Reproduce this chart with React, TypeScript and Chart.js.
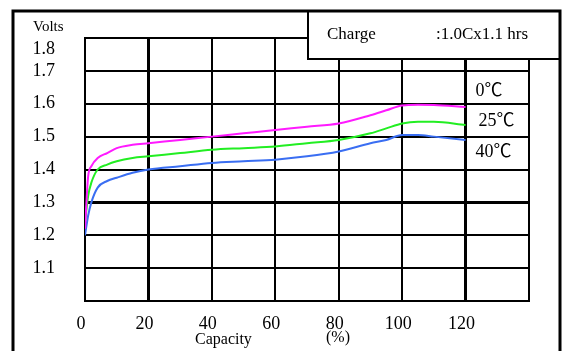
import React, { useEffect, useRef } from 'react';
import { Chart, registerables } from 'chart.js';

Chart.register(...registerables);

// Capacity (%) sample points shared by the three curves
const capacity = [0, 1, 2, 4, 7, 10, 15, 20, 30, 40, 50, 60, 70, 80, 90, 95, 100, 105, 110, 120];
// Voltage (V) per temperature
const volts0C = [1.22, 1.38, 1.41, 1.435, 1.45, 1.465, 1.475, 1.48, 1.49, 1.5, 1.51, 1.52, 1.53, 1.54, 1.565, 1.58, 1.595, 1.597, 1.596, 1.59];
const volts25C = [1.24, 1.32, 1.36, 1.4, 1.415, 1.425, 1.435, 1.44, 1.45, 1.46, 1.465, 1.47, 1.48, 1.49, 1.51, 1.525, 1.54, 1.545, 1.545, 1.535];
const volts40C = [1.2, 1.26, 1.3, 1.345, 1.365, 1.375, 1.39, 1.4, 1.41, 1.42, 1.425, 1.43, 1.44, 1.455, 1.48, 1.49, 1.505, 1.505, 1.5, 1.49];

const seriesLabels = ['0℃', '25℃', '40℃'];
const seriesColors = ['#ff1aff', '#22ee22', '#3a6ef2'];

const xMin = 0;
const xMax = 140;
const xStep = 20;
const yMin = 1.0;
const yMax = 1.8;
const yStep = 0.1;

const yTitle = 'Volts';
const xTitle = 'Capacity';
const xUnit = '(%)';
const chargeLabel = 'Charge';
const chargeValue = ':1.0Cx1.1 hrs';

const SERIF = '"Liberation Serif", "Times New Roman", serif';
const SERIF_CJK = '"Liberation Serif", "Noto Sans CJK SC", serif';

const decorPlugin = {
  id: 'decor',
  afterDraw(chart: any) {
    const ctx = chart.ctx as CanvasRenderingContext2D;
    ctx.save();
    // charge box
    ctx.fillStyle = '#ffffff';
    ctx.fillRect(308, 11, 252, 48);
    ctx.strokeStyle = '#000';
    ctx.lineWidth = 2;
    ctx.strokeRect(308, 11, 252, 48);
    // outer frame
    ctx.lineWidth = 3;
    ctx.beginPath();
    ctx.moveTo(13, 355);
    ctx.lineTo(13, 11);
    ctx.lineTo(560, 11);
    ctx.lineTo(560, 355);
    ctx.stroke();

    ctx.fillStyle = '#000';
    ctx.textBaseline = 'middle';
    ctx.textAlign = 'left';
    ctx.font = `17px ${SERIF}`;
    ctx.fillText(chargeLabel, 327, 35);
    ctx.fillText(chargeValue, 436, 35);

    ctx.font = `15px ${SERIF}`;
    ctx.fillText(yTitle, 33, 27);

    ctx.font = `16px ${SERIF}`;
    ctx.fillText(xTitle, 195, 340);
    ctx.fillText(xUnit, 326, 338);

    ctx.font = `18px ${SERIF_CJK}`;
    const xs = chart.scales.x;
    const ys = chart.scales.y;
    const lastIdx = capacity.length - 1;
    const all = [volts0C, volts25C, volts40C];
    const offs = [-16, -4, 12];
    const dxs = [10, 13, 10];
    seriesLabels.forEach((lab, i) => {
      const px = xs.getPixelForValue(capacity[lastIdx]);
      const py = ys.getPixelForValue(all[i][lastIdx]);
      ctx.fillText(lab, px + dxs[i], py + offs[i]);
    });
    ctx.restore();
  },
};

export default function App() {
  const ref = useRef<HTMLCanvasElement | null>(null);
  useEffect(() => {
    if (!ref.current) return;
    const mk = (vals: number[]) => capacity.map((c, i) => ({ x: c, y: vals[i] }));
    const chart = new Chart(ref.current, {
      type: 'line',
      data: {
        datasets: [volts0C, volts25C, volts40C].map((v, i) => ({
          label: seriesLabels[i],
          data: mk(v),
          borderColor: seriesColors[i],
          backgroundColor: seriesColors[i],
          borderWidth: 2,
          pointRadius: 0,
          cubicInterpolationMode: 'monotone' as const,
          fill: false,
        })),
      },
      plugins: [decorPlugin],
      options: {
        animation: false,
        responsive: false,
        maintainAspectRatio: false,
        layout: { padding: { left: 0, right: 35, top: 38, bottom: 0 } },
        plugins: { legend: { display: false }, tooltip: { enabled: false } },
        scales: {
          x: {
            type: 'linear',
            min: xMin,
            max: xMax,
            afterFit: (s: any) => {
              s.height = 50;
              s.paddingLeft = 0;
              s.paddingRight = 0;
            },
            ticks: {
              stepSize: xStep,
              padding: 12,
              labelOffset: -4,
              color: '#000',
              font: { family: SERIF, size: 18 },
              maxRotation: 0,
              autoSkip: false,
              callback: (v: any) => (v >= xMax ? '' : String(v)),
            },
            grid: {
              color: '#000',
              lineWidth: (c: any) => (c.tick && (c.tick.value === 20 || c.tick.value === 120) ? 3 : 2),
              drawTicks: false,
            },
            border: { display: true, color: '#000', width: 2 },
          },
          y: {
            type: 'linear',
            min: yMin,
            max: yMax,
            afterFit: (s: any) => {
              s.width = 85;
              s.paddingTop = 0;
              s.paddingBottom = 0;
            },
            ticks: {
              stepSize: yStep,
              padding: 30,
              autoSkip: false,
              color: '#000',
              font: { family: SERIF, size: 18 },
              callback: (v: any) => {
                const n = Math.round(Number(v) * 10) / 10;
                if (n <= yMin) return '';
                if (n >= yMax) return ['', n.toFixed(1)];
                return n.toFixed(1);
              },
            },
            grid: {
              color: '#000',
              lineWidth: (c: any) => (c.tick && Math.abs(c.tick.value - 1.3) < 1e-6 ? 3 : 2),
              drawTicks: false,
            },
            border: { display: true, color: '#000', width: 2 },
          },
        },
      },
    });
    return () => chart.destroy();
  }, []);
  return (
    <div style={{ position: 'fixed', left: 0, top: 0, width: 564, height: 351, background: '#fff' }}>
      <canvas ref={ref} width={564} height={351} style={{ display: 'block', width: 564, height: 351 }} />
    </div>
  );
}
